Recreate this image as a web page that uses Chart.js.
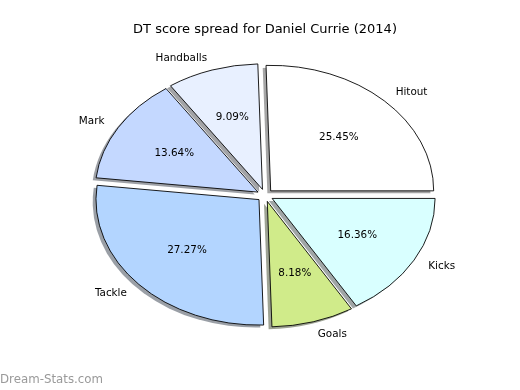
<!DOCTYPE html>
<html>
<head>
<meta charset="utf-8">
<script src="https://cdn.jsdelivr.net/npm/chart.js@4.4.1/dist/chart.umd.min.js"></script>
<style>
  html, body { margin: 0; padding: 0; background: #fff; }
  canvas { display: block; }
</style>
</head>
<body>
<canvas id="pie-chart" width="520" height="390"></canvas>
<script>
// DT score breakdown, listed counter-clockwise from 3 o'clock like the original
const categories = ['Hitout', 'Handballs', 'Mark', 'Tackle', 'Goals', 'Kicks'];
const points = [28, 10, 15, 30, 9, 18];
const sliceColors = ['#ffffff', '#e8f0ff', '#c4d8ff', '#b3d5ff', '#d0eb8a', '#d9ffff'];

const RADIUS = 163;
const SQUASH = 0.77;     // original pie is an ellipse (axes not equal)
const EXPLODE = 0.05;    // every wedge pulled out by 5% of the radius
const SHADOW = { dx: -3.3, dy: 2.5 };

// Chart.js goes clockwise, so reverse to get the same layout
const drawOrder = categories.map((_, i) => i).reverse();

function squash(ctx, x, y) {
    ctx.translate(x, y);
    ctx.scale(1, SQUASH);
    ctx.translate(-x, -y);
}

function shadowColor(hex) {
    const n = parseInt(hex.slice(1), 16);
    const r = Math.round(((n >> 16) & 255) * 0.3);
    const g = Math.round(((n >> 8) & 255) * 0.3);
    const b = Math.round((n & 255) * 0.3);
    return `rgba(${r}, ${g}, ${b}, 0.5)`;
}

const ellipsePie = {
    id: 'ellipsePie',
    beforeDatasetsDraw(chart) {
        const ctx = chart.ctx;
        const arcs = chart.getDatasetMeta(0).data;

        // shadows go under all the wedges
        arcs.forEach(arc => {
            const { x, y, startAngle, endAngle, outerRadius } = arc;
            const mid = (startAngle + endAngle) / 2;
            const d = EXPLODE * outerRadius;
            ctx.save();
            ctx.translate(SHADOW.dx, SHADOW.dy);
            squash(ctx, x, y);
            ctx.translate(Math.cos(mid) * d, Math.sin(mid) * d);
            ctx.beginPath();
            ctx.moveTo(x, y);
            ctx.arc(x, y, outerRadius, startAngle, endAngle);
            ctx.closePath();
            ctx.fillStyle = shadowColor(arc.options.backgroundColor);
            ctx.fill();
            ctx.restore();
        });

        arcs.forEach(arc => {
            const mid = (arc.startAngle + arc.endAngle) / 2;
            const d = EXPLODE * arc.outerRadius;
            ctx.save();
            squash(ctx, arc.x, arc.y);
            ctx.translate(Math.cos(mid) * d, Math.sin(mid) * d);
            arc.draw(ctx);
            ctx.restore();
        });
        return false;
    },
    afterDraw(chart) {
        const ctx = chart.ctx;
        const arcs = chart.getDatasetMeta(0).data;
        const values = chart.data.datasets[0].data;
        const total = values.reduce((a, b) => a + b, 0);

        ctx.save();
        ctx.font = '10.4px "DejaVu Sans"';
        ctx.fillStyle = '#000';
        ctx.textBaseline = 'middle';
        arcs.forEach((arc, i) => {
            const mid = (arc.startAngle + arc.endAngle) / 2;
            const r = arc.outerRadius;
            const d = EXPLODE * r;
            const cos = Math.cos(mid), sin = Math.sin(mid);

            ctx.textAlign = cos > 0 ? 'left' : 'right';
            ctx.fillText(chart.data.labels[i],
                arc.x + cos * (d + 1.1 * r), arc.y + sin * (d + 1.1 * r) * SQUASH);

            ctx.textAlign = 'center';
            ctx.fillText((values[i] / total * 100).toFixed(2) + '%',
                arc.x + cos * (d + 0.6 * r), arc.y + sin * (d + 0.6 * r) * SQUASH);
        });

        // site watermark, bottom left
        ctx.font = '11.8px "DejaVu Sans"';
        ctx.fillStyle = '#9a9a9a';
        ctx.textAlign = 'left';
        ctx.fillText('Dream-Stats.com', 0, 380);
        ctx.restore();
    }
};

Chart.defaults.font.family = '"DejaVu Sans", sans-serif';

new Chart(document.getElementById('pie-chart'), {
    type: 'pie',
    data: {
        labels: drawOrder.map(i => categories[i]),
        datasets: [{
            data: drawOrder.map(i => points[i]),
            backgroundColor: drawOrder.map(i => sliceColors[i]),
            borderColor: '#000',
            borderWidth: 1,
            borderJoinStyle: 'miter'
        }]
    },
    options: {
        responsive: false,
        animation: false,
        devicePixelRatio: 1,
        events: [],
        rotation: 90,
        radius: RADIUS,
        layout: { padding: { left: 10, right: 0, top: 0, bottom: 36.4 } },
        plugins: {
            legend: { display: false },
            tooltip: { enabled: false },
            title: {
                display: true,
                text: 'DT score spread for Daniel Currie (2014)',
                color: '#000',
                font: { size: 13, weight: 'normal' },
                padding: { top: 21.5, bottom: 0 }
            }
        }
    },
    plugins: [ellipsePie]
});
</script>
</body>
</html>
